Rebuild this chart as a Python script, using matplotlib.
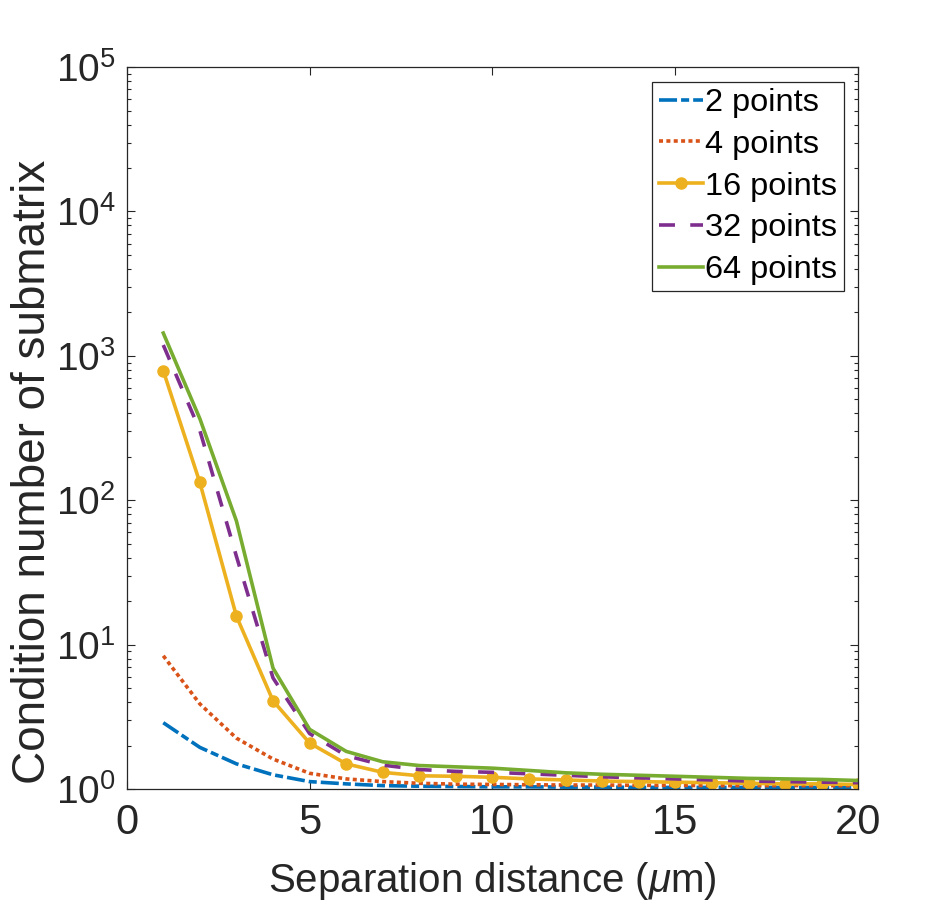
import numpy as np
import matplotlib
matplotlib.use("Agg")
import matplotlib.pyplot as plt
from matplotlib.ticker import LogLocator, NullFormatter

# Data (separation distance in um, condition number)
distance = np.arange(1, 21)

cond_2 = [2.89, 1.95, 1.50, 1.26, 1.13, 1.09, 1.06, 1.05, 1.045, 1.04,
          1.04, 1.035, 1.035, 1.03, 1.03, 1.03, 1.03, 1.03, 1.03, 1.03]
cond_4 = [8.4, 3.9, 2.26, 1.62, 1.29, 1.18, 1.13, 1.10, 1.085, 1.08,
          1.075, 1.07, 1.07, 1.065, 1.065, 1.06, 1.06, 1.06, 1.06, 1.06]
cond_16 = [790, 133, 15.8, 4.1, 2.09, 1.50, 1.31, 1.24, 1.23, 1.21,
           1.18, 1.16, 1.14, 1.13, 1.12, 1.11, 1.10, 1.09, 1.09, 1.08]
cond_32 = [1190, 305, 41, 5.9, 2.43, 1.71, 1.47, 1.37, 1.33, 1.31,
           1.28, 1.25, 1.22, 1.20, 1.18, 1.16, 1.14, 1.13, 1.12, 1.11]
cond_64 = [1440, 368, 72, 6.9, 2.60, 1.83, 1.55, 1.46, 1.43, 1.40,
           1.35, 1.30, 1.27, 1.25, 1.23, 1.21, 1.19, 1.18, 1.17, 1.15]

labels = ["2 points", "4 points", "16 points", "32 points", "64 points"]
colors = ["#0072BD", "#D95319", "#EDB120", "#7E2F8E", "#77AC30"]

plt.rcParams["font.family"] = ["Liberation Sans", "DejaVu Sans"]
plt.rcParams["mathtext.fontset"] = "custom"
plt.rcParams["mathtext.rm"] = "Liberation Sans"
plt.rcParams["mathtext.it"] = "Liberation Sans:italic"
plt.rcParams["lines.scale_dashes"] = False

ink = "#262626"
lw = 2.6

fig = plt.figure(figsize=(9.44, 9.01), dpi=100)
ax = fig.add_axes((0.1342, 0.124, 0.775, 0.8016))

ax.plot(distance, cond_2, color=colors[0], lw=lw, dashes=(13, 2.9, 5.8, 2.9), label=labels[0])
ax.plot(distance, cond_4, color=colors[1], lw=lw, dashes=(2.9, 2.4), label=labels[1])
ax.plot(distance, cond_16, color=colors[2], lw=lw, marker="o", ms=8, label=labels[2])
ax.plot(distance, cond_32, color=colors[3], lw=lw, dashes=(11.5, 11), label=labels[3])
ax.plot(distance, cond_64, color=colors[4], lw=lw, label=labels[4])

ax.set_yscale("log")
ax.set_xlim(0, 20)
ax.set_ylim(1, 1e5)
ax.set_xticks([0, 5, 10, 15, 20])
ax.yaxis.set_major_locator(LogLocator(base=10, numticks=10))
ax.yaxis.set_minor_locator(LogLocator(base=10, subs=np.arange(2, 10), numticks=10))
ax.yaxis.set_minor_formatter(NullFormatter())

ax.tick_params(which="both", direction="in", top=True, right=True, colors=ink)
ax.tick_params(which="major", length=5.8, width=0.8)
ax.tick_params(which="minor", length=3.1, width=0.8)
ax.tick_params(axis="x", labelsize=30, pad=10)
ax.tick_params(axis="y", labelsize=28, pad=8)
for s in ax.spines.values():
    s.set_color(ink)
    s.set_linewidth(0.9)

ax.set_xlabel(r"Separation distance ($\mu$m)", fontsize=29, color=ink, labelpad=12)
ax.set_ylabel("Condition number of submatrix", fontsize=33, color=ink)
ax.yaxis.set_label_coords(-0.098, 0.44)

leg = ax.legend(loc="upper right", fontsize=23.4, frameon=True, fancybox=False,
                edgecolor=ink, framealpha=1, handlelength=1.35, handletextpad=0.08,
                borderaxespad=0.45, labelspacing=0.36, borderpad=0.2)
leg.get_frame().set_linewidth(0.9)

fig.savefig("out.png", dpi=100)
